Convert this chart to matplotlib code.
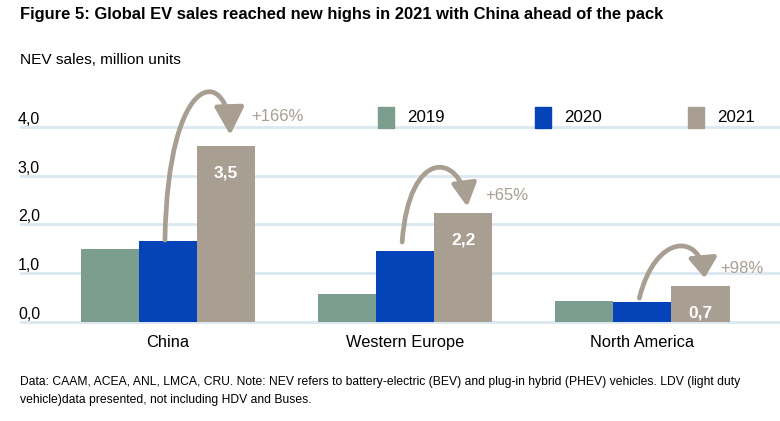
import matplotlib.pyplot as plt
from matplotlib.patches import FancyArrowPatch, Rectangle
from matplotlib.path import Path
import numpy as np

plt.rcParams['font.family'] = ['Liberation Sans', 'DejaVu Sans']

# data
regions = ["China", "Western Europe", "North America"]
years = ["2019", "2020", "2021"]
sales_2019 = [1.50, 0.57, 0.43]
sales_2020 = [1.66, 1.45, 0.41]
sales_2021 = [3.60, 2.23, 0.74]
labels_2021 = ["3,5", "2,2", "0,7"]
growth = ["+166%", "+65%", "+98%"]

colors = ["#7b9e8f", "#0443b8", "#a89e92"]
grid_col = "#dbe8f1"

fig = plt.figure(figsize=(7.8, 4.21), dpi=100)
ax = fig.add_axes([20 / 780, 0.2235, 760 / 780, 0.5564])

x = np.arange(len(regions))
w = 0.245
for i, (vals, c) in enumerate(zip([sales_2019, sales_2020, sales_2021], colors)):
    ax.bar(x + (i - 1) * w, vals, width=w, color=c, zorder=2)

ax.set_xlim(-0.624, 2.58)
ax.set_ylim(-0.1, 4.7)
ax.set_yticks([0, 1, 2, 3, 4])
ax.set_yticklabels(["0,0", "1,0", "2,0", "3,0", "4,0"])
ax.set_xticks([])
ax.grid(axis="y", color=grid_col, lw=2)
for s in ax.spines.values():
    s.set_visible(False)
ax.tick_params(axis="y", length=0, pad=1.5, labelsize=11.5)
for t in ax.get_yticklabels():
    t.set_horizontalalignment("left")
    t.set_verticalalignment("bottom")

# value labels inside 2021 bars
for xi, v, lab in zip(x, sales_2021, labels_2021):
    ax.text(xi + w, v - 0.55, lab, color="white", fontsize=12.5, fontweight="bold",
            ha="center", va="center", zorder=3)

# region labels
for xi, r in zip(x, regions):
    ax.text(xi, -0.27, r, ha="center", va="top", fontsize=11.8)

# curved growth arrows from the 2020 bar down onto the 2021 bar
# (start lift, end lift, ctrl1 dx, ctrl2 dx, ctrl1 y, ctrl2 y, head length, head half-width)
arrow_fmt = [
    (0.02, 0.23, 0.000, 0.253, 5.22, 5.22, 17, 9),
    (0.19, 0.13, 0.017, 0.232, 3.60, 3.45, 14, 7.5),
    (0.08, 0.16, 0.055, 0.245, 1.82, 1.82, 12, 8.5),
]
for xi, v20, v21, (sdy, edy, c1, c2, y1, y2, hl, hw) in zip(x, sales_2020, sales_2021, arrow_fmt):
    p0 = (xi - 0.013, v20 + sdy)
    p3 = (xi + w + 0.017, v21 + edy)
    path = Path([p0, (xi + c1, y1), (xi + c2, y2), p3],
                [Path.MOVETO, Path.CURVE4, Path.CURVE4, Path.CURVE4])
    style = f"-|>,head_length={hl},head_width={hw}"
    arr = FancyArrowPatch(path=path, arrowstyle=style, mutation_scale=1,
                          color=colors[2], lw=3.4, shrinkA=0, shrinkB=0,
                          zorder=4, clip_on=False)
    ax.add_patch(arr)

growth_pos = [(0.46, 4.22), (1.43, 2.60), (2.42, 1.10)]
for (gx, gy), g in zip(growth_pos, growth):
    ax.text(gx, gy, g, color=colors[2], fontsize=12, ha="center", va="center")

# legend (manual, spread across the top gridline)
leg_x = [378, 535, 688]
for lx, yr, c in zip(leg_x, years, colors):
    fig.patches.append(Rectangle((lx / 780, 1 - 128 / 421), 16 / 780, 21 / 421,
                                 transform=fig.transFigure, color=c, zorder=5))
    fig.text((lx + 29) / 780, 1 - 118 / 421, yr, fontsize=12.2, va="center")

fig.text(20 / 780, 1 - 14 / 421, "Figure 5: Global EV sales reached new highs in 2021 with China ahead of the pack",
         fontsize=11.9, fontweight="bold", va="center")
fig.text(20 / 780, 1 - 60 / 421, "NEV sales, million units", fontsize=11.1, va="center")
fig.text(20 / 780, 1 - 382 / 421,
         "Data: CAAM, ACEA, ANL, LMCA, CRU. Note: NEV refers to battery-electric (BEV) and plug-in hybrid (PHEV) vehicles. LDV (light duty",
         fontsize=8.7, va="center")
fig.text(20 / 780, 1 - 400 / 421, "vehicle)data presented, not including HDV and Buses.",
         fontsize=8.7, va="center")

fig.savefig("out.png", dpi=100)
